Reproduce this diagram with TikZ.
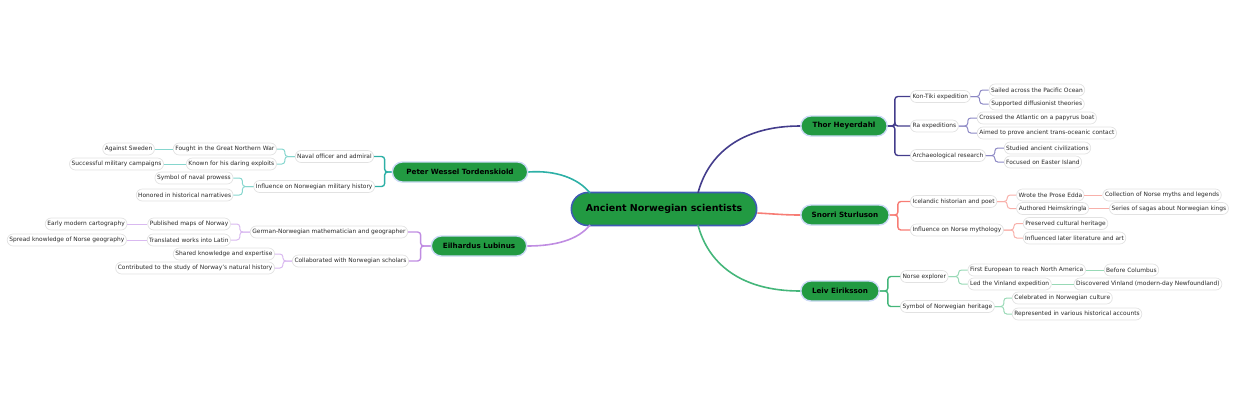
\documentclass[tikz,border=0pt]{standalone}
\usepackage{fontspec}
\setmainfont{DejaVu Sans}
\usetikzlibrary{shapes.misc,calc}
\definecolor{nodegreen}{HTML}{229A42}
\definecolor{rootblue}{HTML}{3F5BB3}
\definecolor{mainborder}{HTML}{CCDAF7}
\definecolor{leafborder}{HTML}{E2E2E2}
\definecolor{leaftext}{HTML}{2A2A2A}
\definecolor{thorA}{HTML}{443D8C}
\definecolor{thorB}{HTML}{8C88C4}
\definecolor{snoA}{HTML}{F77D75}
\definecolor{snoB}{HTML}{F8B0AA}
\definecolor{leivA}{HTML}{44B67A}
\definecolor{leivB}{HTML}{98D9B6}
\definecolor{petA}{HTML}{2DB0A6}
\definecolor{petB}{HTML}{86D6CE}
\definecolor{eilA}{HTML}{C08DE2}
\definecolor{eilB}{HTML}{D9B9F0}
\tikzset{
  rootnode/.style={rounded rectangle, fill=nodegreen, draw=rootblue, line width=1.6pt,
    minimum width=192pt, minimum height=33pt, font=\fontsize{9.5}{11}\selectfont\bfseries, text=black},
  mainnode/.style={rounded rectangle, fill=nodegreen, draw=mainborder, line width=1.4pt,
    minimum height=20pt, font=\fontsize{7.2}{8}\selectfont\bfseries, text=black},
  leaf/.style={rounded rectangle, fill=white, draw=leafborder, line width=0.7pt,
    minimum height=12pt, inner xsep=1.5pt, inner ysep=1pt, font=\fontsize{5.9}{7}\selectfont, text=leaftext},
  lvA/.style={line width=1.4pt, rounded corners=3pt},
  lvB/.style={line width=1pt, rounded corners=3pt},
  rootline/.style={line width=1.6pt},
}
\begin{document}
\begin{tikzpicture}[x=1pt,y=-1pt]
\useasboundingbox (0,0) rectangle (1240,400);

% root
\node[rootnode] (root) at (664,209) {Ancient Norwegian scientists};

% main nodes
\node[mainnode, minimum width=93pt] (thor) at (844,126) {Thor Heyerdahl};
\node[mainnode, minimum width=95pt] (snorri) at (845,215) {Snorri Sturluson};
\node[mainnode, minimum width=85pt] (leiv) at (840,291) {Leiv Eiriksson};
\node[mainnode, minimum width=142pt] (peter) at (460,172) {Peter Wessel Tordenskiold};
\node[mainnode, minimum width=102pt] (eil) at (479,246) {Eilhardus Lubinus};

% root connectors
\draw[rootline, thorA] (698,193) .. controls (708,155) and (740,126) .. (thor.west);
\draw[rootline, leivA] (698,225) .. controls (708,263) and (740,291) .. (leiv.west);
\draw[rootline, snoA] ($(root.east)+(0,4)$) .. controls (775,214) and (785,215) .. (snorri.west);
\draw[rootline, petA] (590,193) .. controls (578,178) and (555,170) .. (peter.east);
\draw[rootline, eilA] (590,225) .. controls (578,240) and (555,246) .. (eil.east);

% ---------------- Thor Heyerdahl
\node[leaf, anchor=west] (kon) at (910,96.5) {Kon-Tiki expedition};
\node[leaf, anchor=west] (ra) at (910,126) {Ra expeditions};
\node[leaf, anchor=west] (arch) at (910,155.5) {Archaeological research};
\foreach \c in {kon,ra,arch} \draw[lvA, thorA] (thor.east) -- ++(7,0) |- (\c.west);

\node[leaf, anchor=west] (sail) at ($(kon.east)+(18,-6.5)$) {Sailed across the Pacific Ocean};
\node[leaf, anchor=west] (supp) at ($(kon.east)+(18,7.5)$) {Supported diffusionist theories};
\foreach \c in {sail,supp} \draw[lvB, thorB] (kon.east) -- ++(9,0) |- (\c.west);

\node[leaf, anchor=west] (cross) at ($(ra.east)+(18,-8)$) {Crossed the Atlantic on a papyrus boat};
\node[leaf, anchor=west] (aim) at ($(ra.east)+(18,7)$) {Aimed to prove ancient trans-oceanic contact};
\foreach \c in {cross,aim} \draw[lvB, thorB] (ra.east) -- ++(9,0) |- (\c.west);

\node[leaf, anchor=west] (stud) at ($(arch.east)+(18,-7.5)$) {Studied ancient civilizations};
\node[leaf, anchor=west] (focus) at ($(arch.east)+(18,6.5)$) {Focused on Easter Island};
\foreach \c in {stud,focus} \draw[lvB, thorB] (arch.east) -- ++(9,0) |- (\c.west);

% ---------------- Snorri Sturluson
\node[leaf, anchor=west] (ice) at (910,201.5) {Icelandic historian and poet};
\node[leaf, anchor=west] (infl) at (910,230) {Influence on Norse mythology};
\foreach \c in {ice,infl} \draw[lvA, snoA] (snorri.east) -- ++(8,0) |- (\c.west);

\node[leaf, anchor=west] (edda) at ($(ice.east)+(19,-6.5)$) {Wrote the Prose Edda};
\node[leaf, anchor=west] (heims) at ($(ice.east)+(19,7)$) {Authored Heimskringla};
\foreach \c in {edda,heims} \draw[lvB, snoB] (ice.east) -- ++(10,0) |- (\c.west);
\node[leaf, anchor=west] (coll) at ($(edda.east)+(18,0)$) {Collection of Norse myths and legends};
\node[leaf, anchor=west] (saga) at ($(heims.east)+(20,0)$) {Series of sagas about Norwegian kings};
\draw[lvB, snoB] (edda.east) -- (coll.west);
\draw[lvB, snoB] (heims.east) -- (saga.west);

\node[leaf, anchor=west] (pres) at ($(infl.east)+(19,-6.5)$) {Preserved cultural heritage};
\node[leaf, anchor=west] (inlit) at ($(infl.east)+(19,8)$) {Influenced later literature and art};
\foreach \c in {pres,inlit} \draw[lvB, snoB] (infl.east) -- ++(10,0) |- (\c.west);

% ---------------- Leiv Eiriksson
\node[leaf, anchor=west] (norse) at (900,276.5) {Norse explorer};
\node[leaf, anchor=west] (symb) at (900,306.5) {Symbol of Norwegian heritage};
\foreach \c in {norse,symb} \draw[lvA, leivA] (leiv.east) -- ++(8,0) |- (\c.west);

\node[leaf, anchor=west] (first) at ($(norse.east)+(19,-6.5)$) {First European to reach North America};
\node[leaf, anchor=west] (led) at ($(norse.east)+(19,7.5)$) {Led the Vinland expedition};
\foreach \c in {first,led} \draw[lvB, leivB] (norse.east) -- ++(10,0) |- (\c.west);
\node[leaf, anchor=west] (colum) at ($(first.east)+(18,0)$) {Before Columbus};
\node[leaf, anchor=west] (disc) at ($(led.east)+(22,0)$) {Discovered Vinland (modern-day Newfoundland)};
\draw[lvB, leivB] (first.east) -- (colum.west);
\draw[lvB, leivB] (led.east) -- (disc.west);

\node[leaf, anchor=west] (celeb) at ($(symb.east)+(17,-8.5)$) {Celebrated in Norwegian culture};
\node[leaf, anchor=west] (repr) at ($(symb.east)+(17,7.5)$) {Represented in various historical accounts};
\foreach \c in {celeb,repr} \draw[lvB, leivB] (symb.east) -- ++(9,0) |- (\c.west);

% ---------------- Peter Wessel Tordenskiold
\node[leaf, anchor=east] (naval) at (374,156.5) {Naval officer and admiral};
\node[leaf, anchor=east] (milh) at (375,186.5) {Influence on Norwegian military history};
\foreach \c in {naval,milh} \draw[lvA, petA] (peter.west) -- ++(-7,0) |- (\c.east);

\node[leaf, anchor=east] (fought) at ($(naval.west)+(-18,-7.5)$) {Fought in the Great Northern War};
\node[leaf, anchor=east] (known) at ($(naval.west)+(-18,7.5)$) {Known for his daring exploits};
\foreach \c in {fought,known} \draw[lvB, petB] (naval.west) -- ++(-10,0) |- (\c.east);
\node[leaf, anchor=east] (swed) at ($(fought.west)+(-18,0)$) {Against Sweden};
\node[leaf, anchor=east] (succ) at ($(known.west)+(-22,0)$) {Successful military campaigns};
\draw[lvB, petB] (fought.west) -- (swed.east);
\draw[lvB, petB] (known.west) -- (succ.east);

\node[leaf, anchor=east] (prow) at ($(milh.west)+(-20,-8.5)$) {Symbol of naval prowess};
\node[leaf, anchor=east] (hon) at ($(milh.west)+(-20,8.5)$) {Honored in historical narratives};
\foreach \c in {prow,hon} \draw[lvB, petB] (milh.west) -- ++(-11,0) |- (\c.east);

% ---------------- Eilhardus Lubinus
\node[leaf, anchor=east] (germ) at (408,232) {German-Norwegian mathematician and geographer};
\node[leaf, anchor=east] (collab) at (409,261) {Collaborated with Norwegian scholars};
\foreach \c in {germ,collab} \draw[lvA, eilA] (eil.west) -- ++(-10,0) |- (\c.east);

\node[leaf, anchor=east] (pub) at ($(germ.west)+(-19,-8)$) {Published maps of Norway};
\node[leaf, anchor=east] (trans) at ($(germ.west)+(-19,8)$) {Translated works into Latin};
\foreach \c in {pub,trans} \draw[lvB, eilB] (germ.west) -- ++(-10,0) |- (\c.east);
\node[leaf, anchor=east] (carto) at ($(pub.west)+(-20,0)$) {Early modern cartography};
\node[leaf, anchor=east] (spread) at ($(trans.west)+(-20,0)$) {Spread knowledge of Norse geography};
\draw[lvB, eilB] (pub.west) -- (carto.east);
\draw[lvB, eilB] (trans.west) -- (spread.east);

\node[leaf, anchor=east] (share) at ($(collab.west)+(-17,-7)$) {Shared knowledge and expertise};
\node[leaf, anchor=east] (contr) at ($(collab.west)+(-17,7)$) {Contributed to the study of Norway's natural history};
\foreach \c in {share,contr} \draw[lvB, eilB] (collab.west) -- ++(-9,0) |- (\c.east);
\end{tikzpicture}
\end{document}
